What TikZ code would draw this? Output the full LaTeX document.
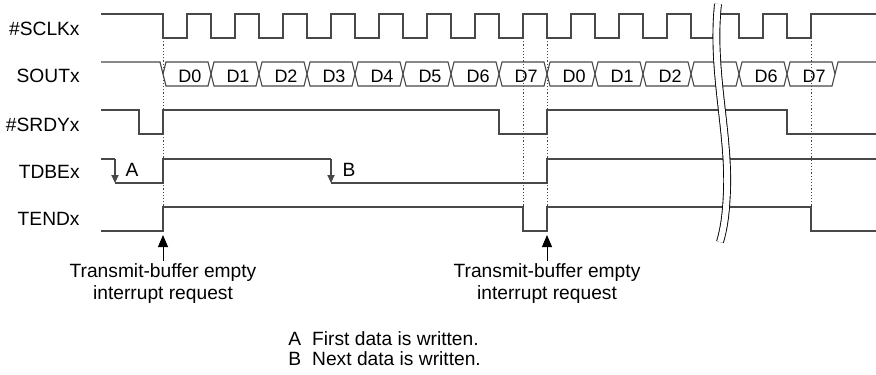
\documentclass[tikz,border=0pt]{standalone}
\usepackage{fontspec}
\setmainfont{Liberation Sans}
\usetikzlibrary{arrows.meta,positioning}
\definecolor{wave}{RGB}{72,72,72}

\begin{document}
\begin{tikzpicture}[x=0.5pt, y=-0.5pt,
  sig/.style={draw=wave, line width=0.55pt},
  guide/.style={draw=wave, line width=0.45pt, dash pattern=on 0.6pt off 1pt},
  drop/.style={sig, -{Triangle[length=4pt, width=3.6pt]}},
  irq/.style={draw=black, line width=0.5pt, -{Triangle[length=6pt, width=5pt]}},
  lbl/.style={anchor=base east, inner sep=0pt, font=\fontsize{9.6}{11}\selectfont},
  txt/.style={inner sep=0pt, font=\fontsize{9.6}{11}\selectfont},
  bit/.style={anchor=base, inner sep=0pt, font=\fontsize{9}{11}\selectfont}
]
  \useasboundingbox (0,0) rectangle (876,374);

  \node[lbl] (sclk) at (80,36) {\#SCLKx};
  \node[lbl] (sout) at (80,83) {SOUTx};
  \node[lbl] (srdy) at (80,131) {\#SRDYx};
  \node[lbl] (tdbe) at (80,178) {TDBEx};
  \node[lbl] (tend) at (80,225) {TENDx};

  \draw[sig] (101,14) \foreach \k in {0,...,13} {
    -- ({163+48*\k},14) -- ({163+48*\k},38) -- ({187+48*\k},38) -- ({187+48*\k},14)
  } -- (876,14);

  \draw[sig] (101,62) -- (160,62) -- (163,74);
  \foreach \d [count=\i from 0] in {D0,D1,D2,D3,D4,D5,D6,D7,D0,D1,D2,{},D6,D7} {
    \draw[sig] ({163+48*\i},74) -- ({166+48*\i},62) -- ({208+48*\i},62) -- ({211+48*\i},74)
      -- ({208+48*\i},86) -- ({166+48*\i},86) -- cycle;
    \node[bit] (cell\i) at ({190+48*\i},83) {\d};
  }
  \draw[sig] (835,74) -- (838,62) -- (876,62);

  \draw[sig] (101,110) -- (139,110) -- (139,134) -- (163,134) -- (163,110) -- (499,110)
    -- (499,134) -- (547,134) -- (547,110) -- (787,110) -- (787,134) -- (876,134);

  \draw[sig] (101,159) -- (115,159);
  \draw[drop] (115,159) -- (115,183);
  \draw[sig] (115,183) -- (163,183) -- (163,159) -- (331,159);
  \draw[drop] (331,159) -- (331,183);
  \draw[sig] (331,183) -- (547,183) -- (547,159) -- (876,159);
  \node[txt] (wra) at (132,170) {A};
  \node[txt] (wrb) at (349,170) {B};

  \draw[sig] (101,231) -- (163,231) -- (163,207) -- (523,207) -- (523,231) -- (547,231)
    -- (547,207) -- (811,207) -- (811,231) -- (876,231);

  \foreach \x in {163,523,547,811}
    \draw[guide] (\x,38) -- (\x,207);

  \draw[draw=black, line width=0.45pt, double=white, double distance=3pt]
    (718,4) .. controls (711,70) and (729,130) .. (727,190) .. controls (726,215) and (724,228) .. (720,242);

  \coordinate (tipa) at (163,235);
  \coordinate (tipb) at (547,235);
  \node[txt, anchor=north, align=center] (irqa) at (163,263) {Transmit-buffer empty\\interrupt request};
  \node[txt, anchor=north, align=center] (irqb) at (547,263) {Transmit-buffer empty\\interrupt request};
  \draw[irq] (irqa.north) ++(0,-2) -- (tipa);
  \draw[irq] (irqb.north) ++(0,-2) -- (tipb);

  \node[txt, anchor=base west] (nota) at (288,345) {A\hspace{5.5pt}First data is written.};
  \node[txt, anchor=base west] (notb) at (288,365) {B\hspace{5.5pt}Next data is written.};
\end{tikzpicture}
\end{document}
